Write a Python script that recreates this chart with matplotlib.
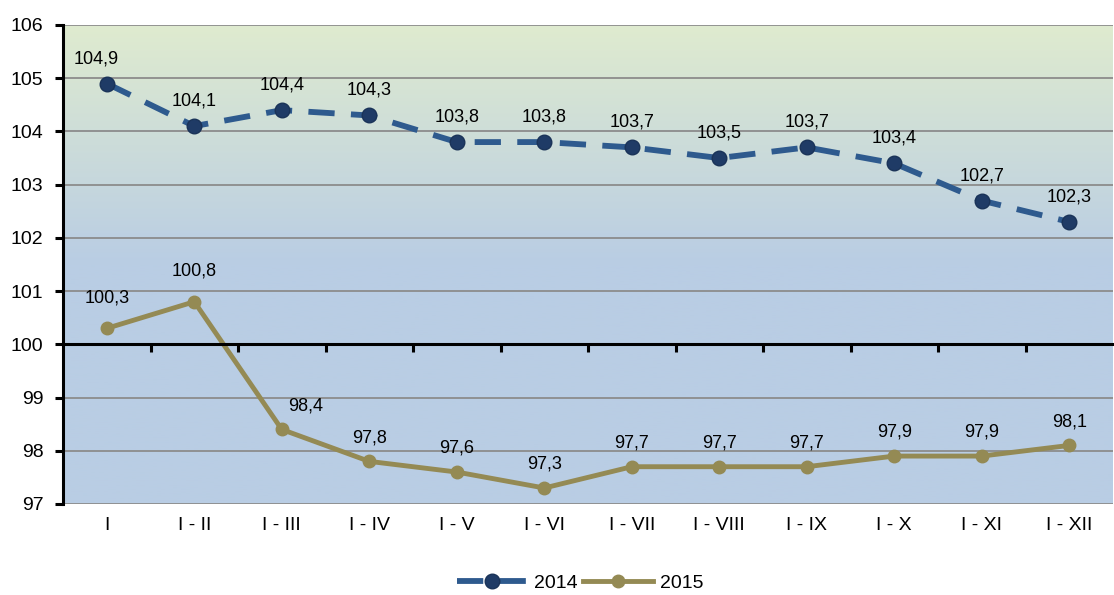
import numpy as np
import matplotlib
matplotlib.use("Agg")
from matplotlib import pyplot as plt
from matplotlib.colors import LinearSegmentedColormap

# Data
categories = ["I", "I - II", "I - III", "I - IV", "I - V", "I - VI",
              "I - VII", "I - VIII", "I - IX", "I - X", "I - XI", "I - XII"]
values_2014 = [104.9, 104.1, 104.4, 104.3, 103.8, 103.8, 103.7, 103.5, 103.7, 103.4, 102.7, 102.3]
values_2015 = [100.3, 100.8, 98.4, 97.8, 97.6, 97.3, 97.7, 97.7, 97.7, 97.9, 97.9, 98.1]

plt.rcParams['font.family'] = ['Liberation Sans', 'DejaVu Sans']

fig = plt.figure(figsize=(11.14, 5.95), dpi=100)
ax = fig.add_axes([0.0566, 0.153, 0.9425, 0.805])

x = np.arange(len(categories))
ax.set_xlim(-0.5, len(categories) - 0.5)
ax.set_ylim(97, 106)

# gradient background (green at top -> blue lower down)
cmap = LinearSegmentedColormap.from_list("bg", [(0.0, "#b9cde4"), (0.5, "#b9cde4"), (1.0, "#dfebcf")])
grad = np.linspace(0, 1, 256).reshape(-1, 1)
ax.imshow(grad, aspect="auto", cmap=cmap, origin="lower",
          extent=(-0.5, len(categories) - 0.5, 97, 106), zorder=0)

# gridlines
for yv in range(97, 107):
    ax.axhline(yv, color="#8c8c8c", lw=1.3, zorder=1)

# 2014 dashed line with dark blue markers
ax.plot(x, values_2014, color="#2e5a8e", lw=4.2, dashes=(4.5, 2.8), zorder=3,
        marker="o", markersize=10.5, markerfacecolor="#1f3b66", markeredgecolor="#1a3358")
# 2015 olive line
ax.plot(x, values_2015, color="#948a54", lw=3.5, zorder=3,
        marker="o", markersize=9, markerfacecolor="#948a54", markeredgecolor="#948a54")

def fmt(v):
    return ("%.1f" % v).replace(".", ",")

for i, v in enumerate(values_2014):
    dx = -8 if i == 0 else 0
    ax.annotate(fmt(v), (x[i], v), xytext=(dx, 18), textcoords="offset points",
                ha="center", va="center", fontsize=13, zorder=4)
for i, v in enumerate(values_2015):
    dx = 17 if i == 2 else 0
    dy = 22 if i < 2 else 17
    ax.annotate(fmt(v), (x[i], v), xytext=(dx, dy), textcoords="offset points",
                ha="center", va="center", fontsize=13, zorder=4)

# axes styling: x axis crossing at 100
for s in ["top", "right"]:
    ax.spines[s].set_visible(False)
ax.spines["left"].set_linewidth(2.2)
ax.spines["left"].set_zorder(5)
ax.spines["bottom"].set_position(("data", 100))
ax.spines["bottom"].set_linewidth(2.2)
ax.spines["bottom"].set_zorder(5)

ax.set_yticks(range(97, 107))
ax.tick_params(axis="y", direction="out", length=6, width=2.2, labelsize=14, pad=8)
ax.set_xticks(np.arange(0.5, len(categories) - 1, 1.0))
ax.set_xticklabels([])
ax.tick_params(axis="x", direction="out", length=6, width=2.2)

for i, c in enumerate(categories):
    ax.text(x[i], -0.028, c, transform=ax.get_xaxis_transform(),
            ha="center", va="top", fontsize=14)

# legend
h1, = ax.plot([], [], color="#2e5a8e", lw=4.2, dashes=(4.5, 2.8),
              marker="o", markersize=10.5, markerfacecolor="#1f3b66", markeredgecolor="#1a3358")
h2, = ax.plot([], [], color="#948a54", lw=3.5,
              marker="o", markersize=9, markerfacecolor="#948a54", markeredgecolor="#948a54")
fig.legend([h1, h2], ["2014", "2015"], loc="center", bbox_to_anchor=(0.521, 0.02),
           ncol=2, frameon=False, fontsize=14, handlelength=3.6, columnspacing=0.3,
           handletextpad=0.35)

plt.savefig("out.png", dpi=100)
